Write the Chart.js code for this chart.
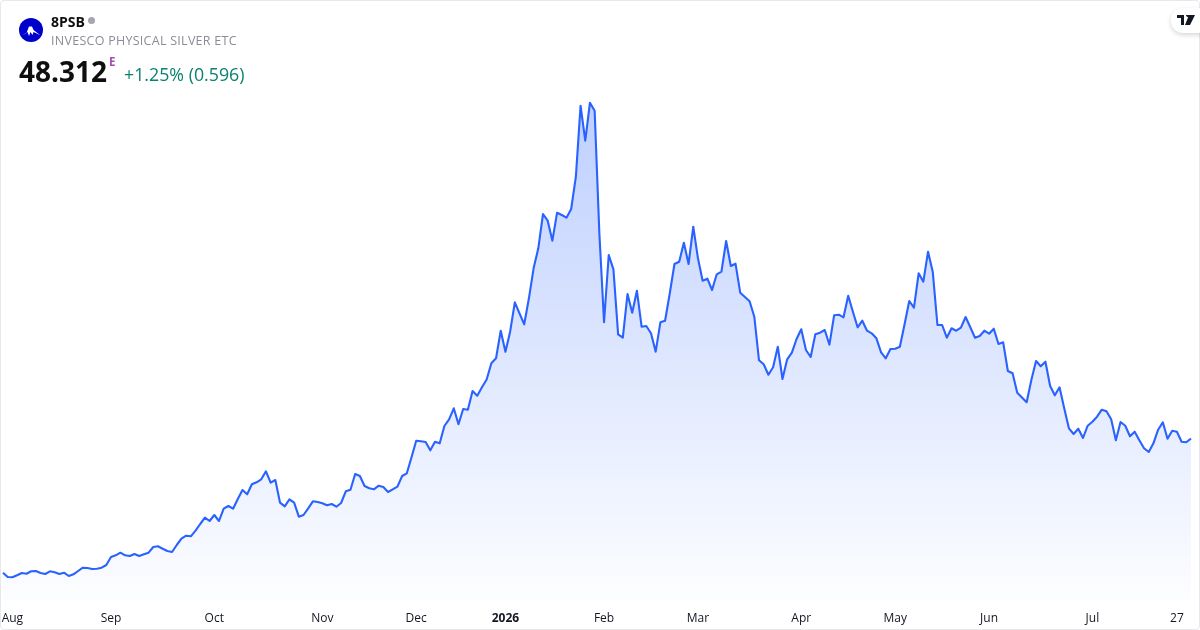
<!DOCTYPE html>
<html>
<head>
<meta charset="utf-8">
<script src="https://cdn.jsdelivr.net/npm/chart.js@4"></script>
<style>
html,body{margin:0;padding:0;background:#fff;overflow:hidden}
#wrap{position:relative;width:1200px;height:630px;font-family:"Open Sans",sans-serif}
canvas{position:absolute;left:0;top:0}
#frame{position:absolute;left:0;top:0;width:1200px;height:630px;box-sizing:border-box;border:1px solid #e6e8ee;border-radius:4px;pointer-events:none}
.t{position:absolute;white-space:nowrap}
#logo{position:absolute;left:19px;top:18px;width:24px;height:24px}
#sym{left:51px;top:12px;font-size:14px;font-weight:700;color:#0f0f0f;line-height:19px}
#dot{position:absolute;left:88px;top:17px;width:7px;height:7px;border-radius:50%;background:#a3a6af}
#name{left:51px;top:32px;font-size:12.5px;color:#8a8d96;line-height:17px;letter-spacing:.27px}
#price{left:19px;top:52px;font-size:28px;font-weight:700;color:#0f0f0f;line-height:38px}
#e{left:109px;top:54px;font-size:11.5px;font-weight:700;color:#ab47bc;line-height:15px}
#chg{left:124px;top:62px;font-size:17.8px;color:#0a8270;line-height:25px}
#tv{position:absolute;left:1171px;top:8px;width:40px;height:25px;background:#fff;border-radius:12px;box-shadow:0 2px 5px rgba(0,0,0,.16)}
</style>
</head>
<body>
<div id="wrap">
<canvas id="c" width="1200" height="630"></canvas>
<div id="frame"></div>
<svg id="logo" viewBox="0 0 24 24"><circle cx="12" cy="12" r="12" fill="#0000cd"/><path d="M3 17.5l4.5-2.5 2.5-6.5h3l1.5 3.5 6.5 5-6.5-3-1 3-2-3-1.5 4-1.5-4z" fill="#fff"/></svg>
<div class="t" id="sym">8PSB</div><div id="dot"></div>
<div class="t" id="name">INVESCO PHYSICAL SILVER ETC</div>
<div class="t" id="price">48.312</div>
<div class="t" id="e">E</div>
<div class="t" id="chg">+1.25% (0.596)</div>
<div id="tv"><svg style="position:absolute;left:6px;top:7px" width="18" height="11" viewBox="0 0 18 11"><path d="M0 0h7v10H4V3H0zM9 0h0a2 2 0 1 1 0 .01zM12 0h6l-5 10H8z" fill="#131722"/></svg></div>
</div>
<script>
const values = [
21.46,20.6,20.54,20.94,21.4,21.26,21.74,21.8,21.4,21.2,
21.74,21.54,21.2,21.46,20.8,21.14,21.8,22.46,22.4,22.2,
22.26,22.46,23,24.6,24.94,25.46,24.94,24.8,25.2,24.8,
25.14,25.46,26.6,26.74,26.26,25.8,25.6,27,28.26,28.86,
28.74,29.86,31.2,32.46,31.8,33,31.8,34.26,34.8,34.26,
36.2,38,37.14,39.14,39.54,40.14,41.74,39.46,40,35.46,
34.74,36.14,35.46,32.66,33,34.34,35.74,35.6,35.34,34.94,
35.2,34.66,35.4,37.74,38.06,41.2,40.8,38.8,38.34,38.14,
38.86,38.6,37.6,38.14,38.66,40.8,41.34,44.54,47.86,47.74,
47.6,45.94,47.66,47.34,50.8,52.14,54.34,51.14,54.2,54.06,
57.8,56.86,58.54,60.1,63.34,64.34,69.86,65.66,69.66,75.54,
73.34,71.14,76.34,82.34,86.34,93.2,91.86,87.86,93.46,93,
92.46,94.2,100.66,114.86,107.86,115.46,113.86,89.4,71.54,85,
82.14,69.14,68.46,77.2,73.46,77.86,70.66,70.8,69.34,65.66,
71.54,71.86,77.34,83.2,83.66,87.46,83.2,90.66,84.34,79.86,
80.26,78,81.14,81.66,87.8,82.8,83.26,77.46,76.6,75.74,
72.66,63.94,63.14,61.06,62.54,66.66,60.2,64.14,65.46,68.2,
70.14,66,64.6,69.14,69.46,70,67.06,72.94,73.06,72.54,
76.86,73.66,70.54,71.86,69.86,69.34,68.34,65.54,64.34,66.2,
66.26,66.66,71.14,75.8,74.46,81.34,79.66,85.66,81.66,71,
71,68.46,70.34,69.86,70.46,72.6,70.54,68.46,68.8,69.86,
69.26,70.26,67.2,67.54,61.8,61.34,57.46,56.5,55.56,60,
63.8,62.74,63.66,58.8,56.94,58.54,54.34,50.34,49.2,50.26,
48.4,50.86,51.66,52.66,54.06,53.74,52.14,47.94,51.6,50.86,
48.74,49.66,47.94,46.34,45.6,47.34,50.06,51.54,48.26,49.86,
49.66,47.66,47.54,48.312
];
const tickLabels = ['Aug','Sep','Oct','Nov','Dec','2026','Feb','Mar','Apr','May','Jun','Jul','27'];
const tickPositions = [2,23,45,68,88,107,128,148,170,190,210,232,250];
const boldTicks = ['2026'];
const categories = values.map((v,i)=>{const k=tickPositions.indexOf(i);return k>=0?tickLabels[k]:'';});

new Chart(document.getElementById('c'),{
  type:'line',
  data:{labels:categories,datasets:[{
    data:values,
    borderColor:'#2962ff',
    borderWidth:2.1,
    pointRadius:0,
    tension:0,
    borderJoinStyle:'round',
    fill:'start',
    backgroundColor(ctx){
      const a=ctx.chart.chartArea; if(!a) return 'rgba(41,98,255,.1)';
      const y=ctx.chart.scales.y;
      const g=ctx.chart.ctx.createLinearGradient(0,y.getPixelForValue(Math.max(...values)),0,a.bottom);
      g.addColorStop(0,'rgba(41,98,255,0.3)');
      g.addColorStop(1,'rgba(41,98,255,0.01)');
      return g;
    }
  }]},
  options:{
    responsive:false,animation:false,devicePixelRatio:1,
    layout:{padding:{left:3,right:9,top:0,bottom:0}},
    plugins:{legend:{display:false},tooltip:{enabled:false},title:{display:false}},
    scales:{
      x:{
        type:'category',offset:false,
        grid:{display:false,drawTicks:false},border:{display:false},
        afterFit(s){s.height=30;s.paddingLeft=0;s.paddingRight=0;},
        ticks:{
          autoSkip:false,maxRotation:0,minRotation:0,padding:11,color:'#131722',
          font(c){return {family:'"Open Sans",sans-serif',size:12,weight:boldTicks.includes(c.tick&&c.tick.label)?'700':'400'};},
          callback(v){return this.getLabelForValue(v);}
        }
      },
      y:{display:false,min:16,max:136}
    }
  }
});
</script>
</body>
</html>
